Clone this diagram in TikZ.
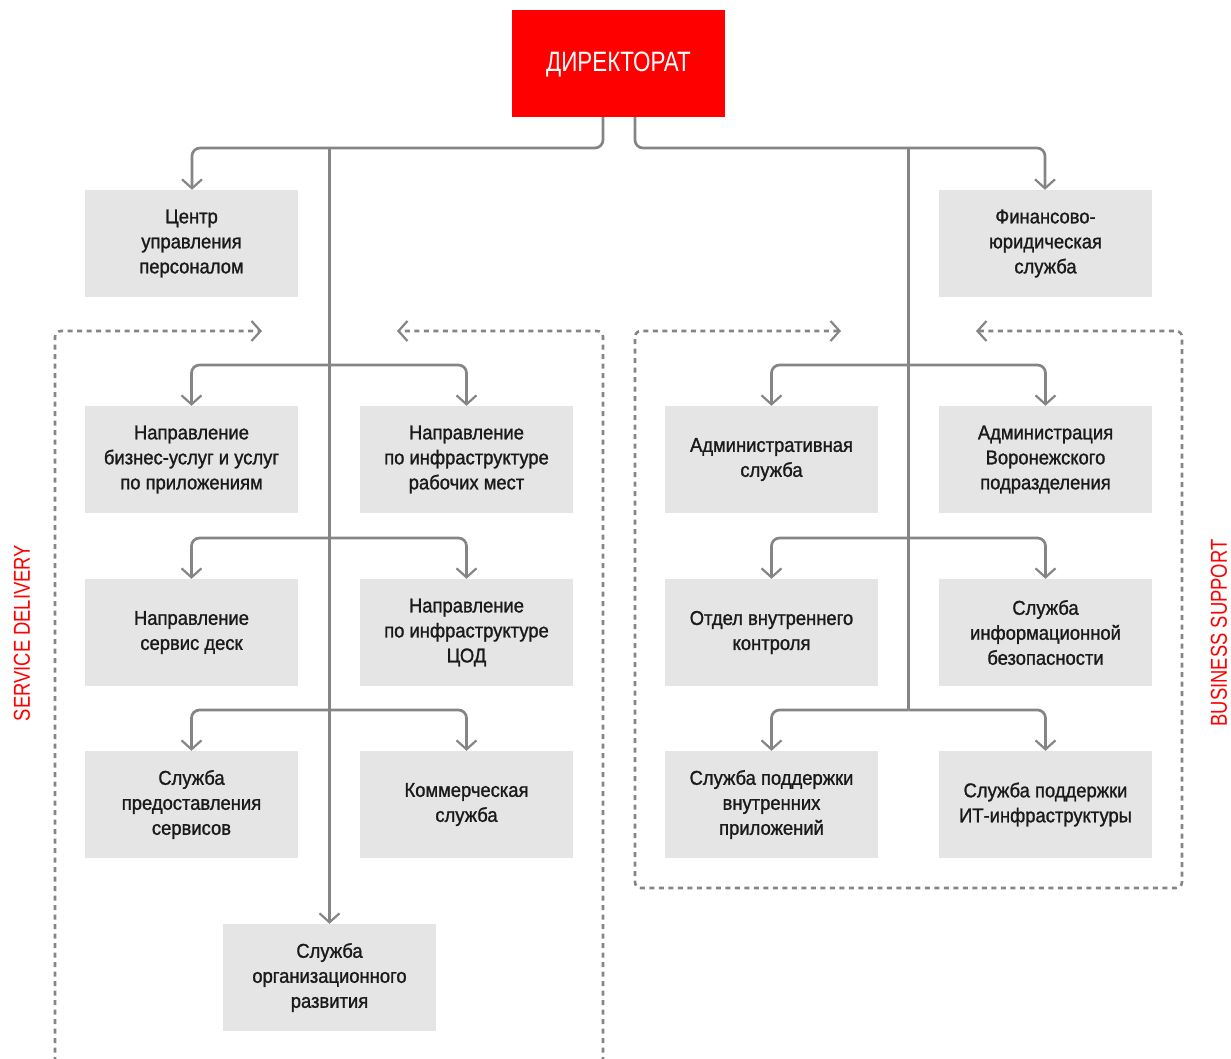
\documentclass[tikz,border=0pt]{standalone}
\usepackage{fontspec}
\setmainfont[FakeStretch=0.8]{Liberation Sans}
\newfontfamily\boxfont[FakeStretch=0.92,FakeBold=1.2]{Liberation Sans}
\usetikzlibrary{arrows.meta,calc}
\definecolor{boxgray}{HTML}{E5E5E5}
\definecolor{linegray}{HTML}{858585}
\definecolor{dirred}{HTML}{FF0000}
\definecolor{txt}{HTML}{1A1A1A}
\tikzset{
  unit/.style={fill=boxgray, minimum width=213pt, minimum height=107pt, inner sep=0pt,
    align=center, text=txt, font=\boxfont\fontsize{20}{25}\selectfont},
  conn/.style={draw=linegray, line width=2.7pt, rounded corners=8pt,
    -{Straight Barb[length=9pt,width=20pt,line width=2.2pt]}},
  plain/.style={draw=linegray, line width=2.7pt, rounded corners=8pt},
  dashbox/.style={draw=linegray, line width=2.6pt, rounded corners=6pt,
    dash pattern=on 5pt off 4.5pt},
  side/.style={text=dirred, rotate=90, font=\fontsize{23}{25}\selectfont}
}
\begin{document}
\begin{tikzpicture}[x=1pt,y=-1pt]
\useasboundingbox (0,0) rectangle (1231,1058);
% director
\node[fill=dirred, minimum width=213pt, minimum height=107pt, inner sep=0pt, text=white,
  font=\fontsize{28}{30}\selectfont, text height=18pt, text depth=2pt] (dir) at (618.5,63.5) {ДИРЕКТОРАТ};
% boxes
\node[unit] (hr) at (191.5,243.5) {Центр\\управления\\персоналом};
\node[unit] (fin) at (1045.5,243.5) {Финансово-\\юридическая\\служба};
\node[unit] (a1) at (191.5,459.5) {Направление\\бизнес-услуг и услуг\\по приложениям};
\node[unit] (b1) at (466.5,459.5) {Направление\\по инфраструктуре\\рабочих мест};
\node[unit] (c1) at (771.5,459.5) {Административная\\служба};
\node[unit] (d1) at (1045.5,459.5) {Администрация\\Воронежского\\подразделения};
\node[unit] (a2) at (191.5,632.5) {Направление\\сервис деск};
\node[unit] (b2) at (466.5,632.5) {Направление\\по инфраструктуре\\ЦОД};
\node[unit] (c2) at (771.5,632.5) {Отдел внутреннего\\контроля};
\node[unit] (d2) at (1045.5,632.5) {Служба\\информационной\\безопасности};
\node[unit] (a3) at (191.5,804.5) {Служба\\предоставления\\сервисов};
\node[unit] (b3) at (466.5,804.5) {Коммерческая\\служба};
\node[unit] (c3) at (771.5,804.5) {Служба поддержки\\внутренних\\приложений};
\node[unit] (d3) at (1045.5,804.5) {Служба поддержки\\ИТ-инфраструктуры};
\node[unit] (org) at (329.5,977.5) {Служба\\организационного\\развития};
% connection points
\coordinate (dl) at (603,117);
\coordinate (dr) at (635,117);
\coordinate (lt) at (329.5,148);
\coordinate (rt) at (908.5,148);
\coordinate (l1) at (329.5,365);
\coordinate (l2) at (329.5,538);
\coordinate (l3) at (329.5,710);
\coordinate (r1) at (908.5,365);
\coordinate (r2) at (908.5,538);
\coordinate (r3) at (908.5,710);
% director branches
\draw[conn] (dl) -- (dl |- lt) -| ([xshift=0.5pt]hr.north);
\draw[conn] (dr) -- (dr |- rt) -| ([xshift=-0.5pt]fin.north);
% trunks
\draw[conn] (lt) -- (org.north);
\draw[plain] (rt) -- (r3);
% left branches
\draw[conn] (l1) -| (a1.north);
\draw[conn] (l1) -| (b1.north);
\draw[conn] (l2) -| (a2.north);
\draw[conn] (l2) -| (b2.north);
\draw[conn] (l3) -| (a3.north);
\draw[conn] (l3) -| (b3.north);
% right branches
\draw[conn] (r1) -| (c1.north);
\draw[conn] (r1) -| (d1.north);
\draw[conn] (r2) -| (c2.north);
\draw[conn] (r2) -| (d2.north);
\draw[conn] (r3) -| (c3.north);
\draw[conn] (r3) -| (d3.north);
% dashed group frames
\coordinate (sdA) at (262,331);
\coordinate (sdB) at (397,331);
\coordinate (bsA) at (841,331);
\coordinate (bsB) at (976,331);
\draw[dashbox, -{Straight Barb[length=9pt,width=20pt,line width=2.2pt]}] (55,1062) -- (55,331) -- (sdA);
\draw[dashbox, -{Straight Barb[length=9pt,width=20pt,line width=2.2pt]}] (603,1062) -- (603,331) -- (sdB);
\draw[dashbox, {Straight Barb[length=9pt,width=20pt,line width=2.2pt]}-{Straight Barb[length=9pt,width=20pt,line width=2.2pt]}]
  (bsA) -- (635,331) -- (635,888) -- (1182,888) -- (1182,331) -- (bsB);
% side labels
\node[side] (sdl) at (22,633) {SERVICE DELIVERY};
\node[side] (bsl) at (1219,633) {BUSINESS SUPPORT};
\end{tikzpicture}
\end{document}
